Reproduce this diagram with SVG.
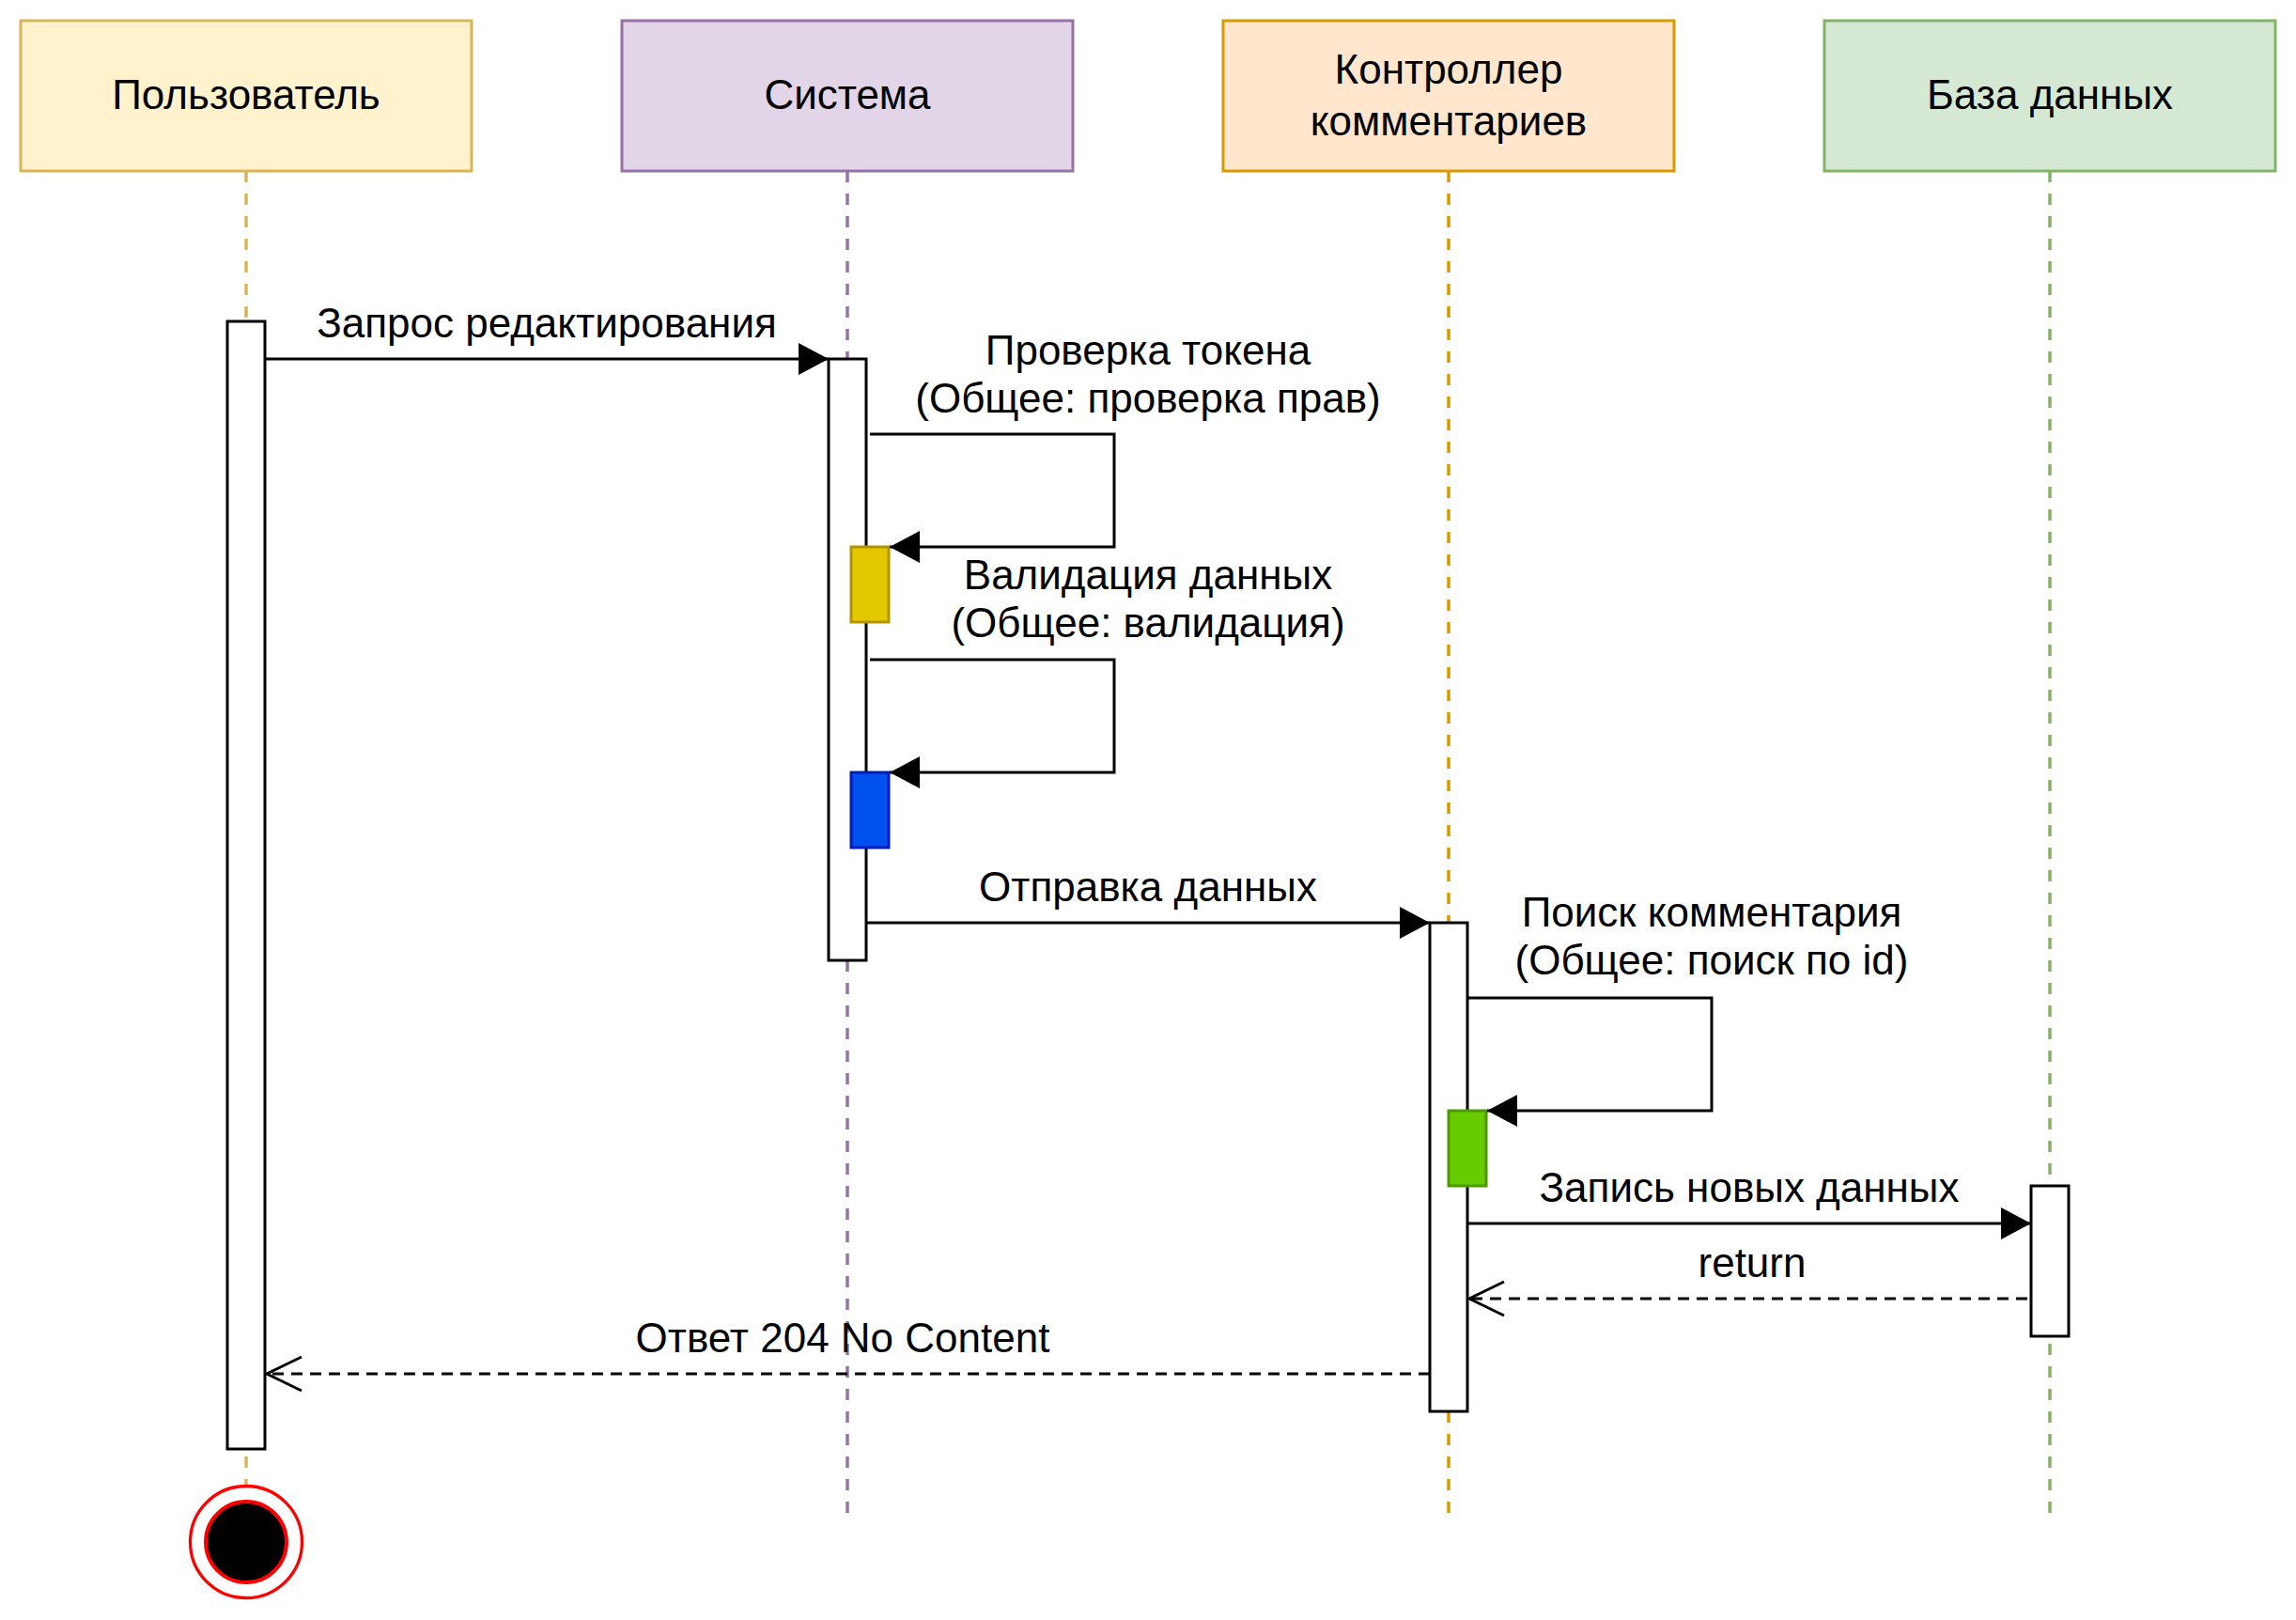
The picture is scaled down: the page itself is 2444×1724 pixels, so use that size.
<svg xmlns="http://www.w3.org/2000/svg" width="2444" height="1724" viewBox="0 0 2444 1724">
  <style>
    text { font-family: "Liberation Sans", Arial, Helvetica, sans-serif; font-size: 44px; fill: #000; text-anchor: middle; }
    .head { stroke-width: 3; }
    .life { fill: none; stroke-width: 3.5; stroke-dasharray: 12 12; }
    .act { fill: #fff; stroke: #000; stroke-width: 3; }
    .msg { fill: none; stroke: #000; stroke-width: 3; }
    .ret { fill: none; stroke: #000; stroke-width: 3.2; stroke-dasharray: 12 8; }
  </style>
  <defs>
    <marker id="block" markerUnits="userSpaceOnUse" markerWidth="34" markerHeight="36" refX="32" refY="17" orient="auto" overflow="visible">
      <path d="M0,0 L32,17 L0,34 Z" fill="#000"/>
    </marker>
    <marker id="open" markerUnits="userSpaceOnUse" markerWidth="40" markerHeight="40" refX="37" refY="18" orient="auto" overflow="visible">
      <path d="M0,0 L37,18 L0,36" fill="none" stroke="#000" stroke-width="3"/>
    </marker>
  </defs>

  <rect width="2444" height="1724" fill="#fff"/>

  <!-- lifelines -->
  <g id="lifelines">
    <line class="life" x1="262" y1="182" x2="262" y2="1581" stroke="#d6b656"/>
    <line class="life" x1="902" y1="182" x2="902" y2="1610" stroke="#9673a6"/>
    <line class="life" x1="1542" y1="182" x2="1542" y2="1610" stroke="#d79b00"/>
    <line class="life" x1="2182" y1="182" x2="2182" y2="1610" stroke="#82b366"/>
  </g>

  <!-- participants -->
  <g id="user">
    <rect class="head" x="22" y="22" width="480" height="160" fill="#fff2cc" stroke="#d6b656"/>
    <text x="262" y="116">Пользователь</text>
  </g>
  <g id="system">
    <rect class="head" x="662" y="22" width="480" height="160" fill="#e1d5e7" stroke="#9673a6"/>
    <text x="902" y="116">Система</text>
  </g>
  <g id="controller">
    <rect class="head" x="1302" y="22" width="480" height="160" fill="#ffe6cc" stroke="#d79b00"/>
    <text x="1542" y="88.5">Контроллер</text>
    <text x="1542" y="143.5">комментариев</text>
  </g>
  <g id="database">
    <rect class="head" x="1942" y="22" width="480" height="160" fill="#d5e8d4" stroke="#82b366"/>
    <text x="2182" y="116">База данных</text>
  </g>

  <!-- activations -->
  <g id="user-activation">
    <rect class="act" x="242" y="342" width="40" height="1200"/>
  </g>
  <g id="system-activation">
    <rect class="act" x="882" y="382" width="40" height="640"/>
  </g>
  <g id="token-check">
    <rect x="906" y="582" width="40" height="80" fill="#e3c800" stroke="#b09500" stroke-width="3"/>
  </g>
  <g id="validation">
    <rect x="906" y="822" width="40" height="80" fill="#0050ef" stroke="#001dbc" stroke-width="3"/>
  </g>
  <g id="controller-activation">
    <rect class="act" x="1522" y="982" width="40" height="520"/>
  </g>
  <g id="comment-lookup">
    <rect x="1542" y="1182" width="40" height="80" fill="#66cc00" stroke="#4d9900" stroke-width="3"/>
  </g>
  <g id="database-activation">
    <rect class="act" x="2162" y="1262" width="40" height="160"/>
  </g>

  <!-- end state -->
  <g id="end">
    <circle cx="262" cy="1641" r="59.5" fill="#fff" stroke="#ff0000" stroke-width="3.3"/>
    <circle cx="262" cy="1641" r="43" fill="#000" stroke="#ff0000" stroke-width="4"/>
  </g>

  <!-- messages -->
  <g id="connectors">
    <line class="msg" x1="282" y1="382" x2="882" y2="382" marker-end="url(#block)"/>
    <polyline class="msg" points="926,462 1186,462 1186,582 947,582" marker-end="url(#block)"/>
    <polyline class="msg" points="926,702 1186,702 1186,822 947,822" marker-end="url(#block)"/>
    <line class="msg" x1="922" y1="982" x2="1522" y2="982" marker-end="url(#block)"/>
    <polyline class="msg" points="1562,1062 1822,1062 1822,1182 1583,1182" marker-end="url(#block)"/>
    <line class="msg" x1="1562" y1="1302" x2="2162" y2="1302" marker-end="url(#block)"/>
    <line class="ret" x1="2158" y1="1382" x2="1564" y2="1382" marker-end="url(#open)"/>
    <line class="ret" x1="1522" y1="1462" x2="284" y2="1462" marker-end="url(#open)"/>
  </g>

  <!-- message labels -->
  <g id="labels">
    <text x="582" y="359">Запрос редактирования</text>
    <text x="1222" y="388">Проверка токена</text>
    <text x="1222" y="439">(Общее: проверка прав)</text>
    <text x="1222" y="627">Валидация данных</text>
    <text x="1222" y="678">(Общее: валидация)</text>
    <text x="1222" y="959">Отправка данных</text>
    <text x="1822" y="986">Поиск комментария</text>
    <text x="1822" y="1037">(Общее: поиск по id)</text>
    <text x="1862" y="1279">Запись новых данных</text>
    <text x="1865" y="1359">return</text>
    <text x="897" y="1439">Ответ 204 No Content</text>
  </g>
</svg>
